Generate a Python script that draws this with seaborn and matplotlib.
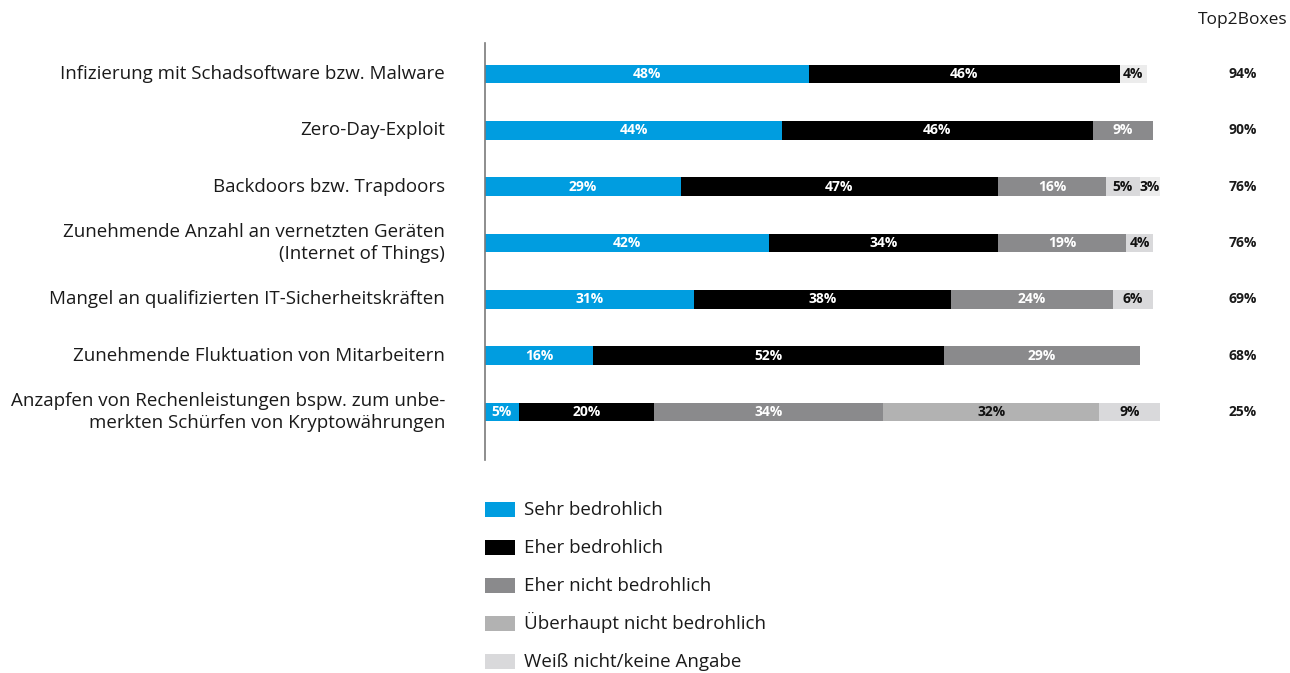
import matplotlib
matplotlib.use("Agg")
import matplotlib.pyplot as plt
import numpy as np
import pandas as pd
import seaborn as sns
from matplotlib.patches import Rectangle

# --- data -------------------------------------------------------------
categories = [
    "Infizierung mit Schadsoftware bzw. Malware",
    "Zero-Day-Exploit",
    "Backdoors bzw. Trapdoors",
    "Zunehmende Anzahl an vernetzten Geräten\n(Internet of Things)",
    "Mangel an qualifizierten IT-Sicherheitskräften",
    "Zunehmende Fluktuation von Mitarbeitern",
    "Anzapfen von Rechenleistungen bspw. zum unbe-\nmerkten Schürfen von Kryptowährungen",
]
sehr_bedrohlich = [48, 44, 29, 42, 31, 16, 5]
eher_bedrohlich = [46, 46, 47, 34, 38, 52, 20]
eher_nicht_bedrohlich = [0, 9, 16, 19, 24, 29, 34]
ueberhaupt_nicht_bedrohlich = [0, 0, 0, 0, 0, 0, 32]
weiss_nicht = [0, 0, 5, 4, 6, 0, 9]
sonstige = [4, 0, 3, 0, 0, 0, 0]
top2boxes = [94, 90, 76, 76, 69, 68, 25]

series_names = [
    "Sehr bedrohlich",
    "Eher bedrohlich",
    "Eher nicht bedrohlich",
    "Überhaupt nicht bedrohlich",
    "Weiß nicht/keine Angabe",
    "Sonstige",
]
series_values = [
    sehr_bedrohlich,
    eher_bedrohlich,
    eher_nicht_bedrohlich,
    ueberhaupt_nicht_bedrohlich,
    weiss_nicht,
    sonstige,
]
colors = ["#009de0", "#000000", "#8a8a8c", "#b2b2b2", "#d9d9db", "#ececec"]
text_colors = ["white", "white", "white", "#111111", "#111111", "#111111"]
in_legend = [True, True, True, True, True, False]

# --- style ------------------------------------------------------------
sns.set_theme(style="white")
plt.rcParams["font.family"] = ["Open Sans", "DejaVu Sans"]

W, H = 1290, 673
fig = plt.figure(figsize=(W / 100, H / 100), dpi=100)
ax = fig.add_axes([485 / W, 1 - 460 / H, 675 / W, 417 / H])

vals = np.array(series_values, dtype=float)
cum = np.cumsum(vals, axis=0)
starts = cum - vals

# stacked bars: draw cumulative totals from the outermost segment inwards
for i in reversed(range(len(series_names))):
    df = pd.DataFrame({"cat": categories, "end": cum[i]})
    sns.barplot(data=df, x="end", y="cat", orient="h", color=colors[i],
                width=0.33, saturation=1, ax=ax, linewidth=0)

# segment value labels
for i in range(len(series_names)):
    for j in range(len(categories)):
        v = vals[i, j]
        if v <= 0:
            continue
        ax.text(starts[i, j] + v / 2, j, f"{int(v)}%", ha="center", va="center",
                color=text_colors[i], fontsize=10, fontweight="bold")

ax.set_xlim(0, 100)
ax.set_ylim(len(categories) - 1 + 0.85, -0.55)
ax.set_xlabel("")
ax.set_ylabel("")
ax.set_xticks([])
ax.set_yticks([])
for s in ["top", "right", "bottom"]:
    ax.spines[s].set_visible(False)
ax.spines["left"].set_color("#7a7a7a")
ax.spines["left"].set_linewidth(1.2)

# category labels
for j, label in enumerate(categories):
    ax.text(-40 / 6.75, j, label, ha="right", va="center", fontsize=13.5,
            color="#1a1a1a", linespacing=1.3)

# Top2Boxes column
x_top = 1243 / W
fig.text(x_top, 1 - 20 / H, "Top2Boxes", ha="center", va="center",
         fontsize=12.5, color="#1a1a1a")
for j, t in enumerate(top2boxes):
    ax.text(100 + (1243 - 1160) / 6.75, j, f"{t}%", ha="center", va="center",
            fontsize=10, fontweight="bold", color="#1a1a1a")

# legend: evenly spaced swatches with labels on a common baseline offset
legend_items = [(c, n) for c, n, show in zip(colors, series_names, in_legend) if show]
for k, (c, n) in enumerate(legend_items):
    yc = 509 + 38 * k
    fig.patches.append(Rectangle((485 / W, 1 - (yc + 7.5) / H), 30 / W, 15 / H,
                                 transform=fig.transFigure, facecolor=c,
                                 edgecolor="none"))
    fig.text(524 / W, 1 - (yc + 6) / H, n, ha="left", va="baseline",
             fontsize=13.5, color="#1a1a1a")

fig.savefig("out.png", dpi=100, facecolor="white")
